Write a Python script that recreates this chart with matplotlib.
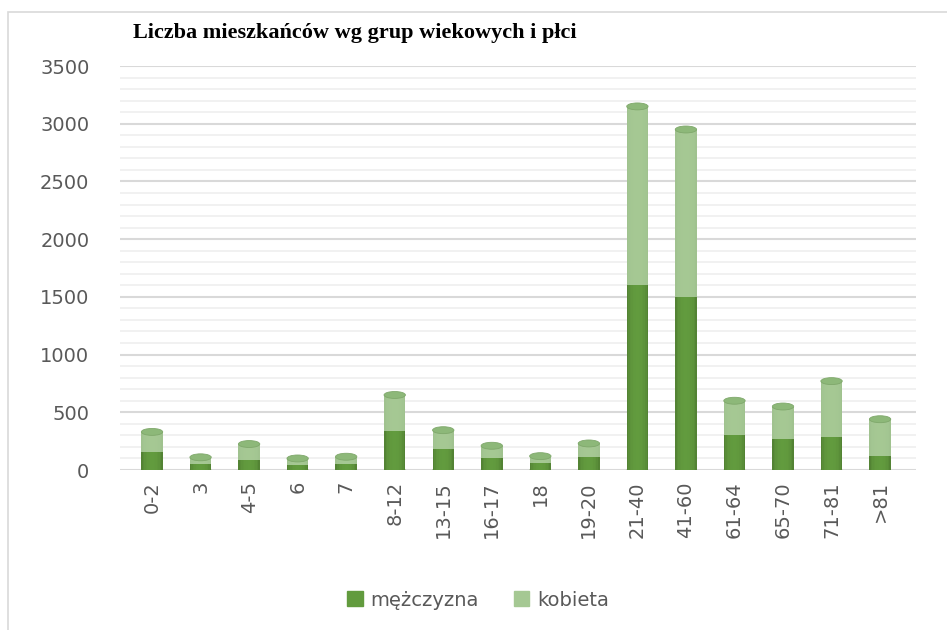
import numpy as np
import matplotlib
matplotlib.use('Agg')
from matplotlib import pyplot as plt
from matplotlib.patches import Rectangle, Ellipse
from matplotlib.colors import to_rgb

groups = ['0-2', '3', '4-5', '6', '7', '8-12', '13-15', '16-17', '18', '19-20',
          '21-40', '41-60', '61-64', '65-70', '71-81', '>81']
men = [160, 50, 85, 40, 50, 340, 180, 100, 60, 110, 1600, 1500, 300, 270, 290, 120]
women = [170, 60, 140, 60, 65, 310, 165, 110, 60, 120, 1550, 1450, 300, 280, 480, 320]

c_men = '#629B3E'
c_women = '#A5C893'
grey = '#595959'

fig = plt.figure(figsize=(9.47, 6.3), dpi=100)
fig.patches.append(Rectangle((8 / 947, -0.01), 1.0, 1 - 12 / 630 + 0.01,
                             transform=fig.transFigure, fill=False,
                             edgecolor='#D9D9D9', lw=1.2))
ax = fig.add_axes([120 / 947, 1 - 470 / 630, (916 - 120) / 947, (470 - 66) / 630])

x = np.arange(len(groups))
w = 0.44

# cylinder look: each stack drawn as thin vertical strips, darker at the edges
n = 14
offs = (np.arange(n) + 0.5) / n * 2 - 1
for k, o in enumerate(offs):
    f = 0.72 + 0.28 * (1 - o ** 2) ** 0.4
    cm = tuple(min(1, c * f) for c in to_rgb(c_men))
    cw = tuple(min(1, c * (0.82 + 0.18 * f)) for c in to_rgb(c_women))
    ax.bar(x + o * w / 2, men, width=w / n * 1.05, color=cm, zorder=3, lw=0)
    ax.bar(x + o * w / 2, women, width=w / n * 1.05, bottom=men, color=cw, zorder=3, lw=0)

# elliptical caps
tot = np.array(men) + np.array(women)
for i in x:
    ax.add_patch(Ellipse((i, tot[i]), w, 60, facecolor='#8DB879', edgecolor='#7FA86B',
                         lw=0.6, zorder=4))
    ax.add_patch(Ellipse((i, 0), w, 60, facecolor='#4F8530', edgecolor='none', zorder=2.9))

ax.set_xlim(-0.66, 15.74)
ax.set_ylim(0, 3500)
ax.set_yticks(np.arange(0, 3501, 500))
ax.set_yticks(np.arange(0, 3501, 100), minor=True)
ax.grid(axis='y', which='major', color='#D9D9D9', lw=1.5, zorder=0)
ax.grid(axis='y', which='minor', color='#EFEFEF', lw=1.2, zorder=0)
ax.set_axisbelow(True)
for s in ax.spines.values():
    s.set_visible(False)
ax.tick_params(axis='both', which='both', length=0, colors=grey, labelsize=14)
ax.tick_params(axis='y', pad=22)
ax.tick_params(axis='x', pad=8)
ax.set_xticks(x)
ax.set_xticklabels(groups, rotation=90)

fig.text(133 / 947, 1 - 33 / 630, 'Liczba mieszkańców wg grup wiekowych i płci',
         family='Liberation Serif', weight='bold', fontsize=16, va='center', ha='left')

h1 = Rectangle((0, 0), 1, 1, color=c_men)
h2 = Rectangle((0, 0), 1, 1, color=c_women)
leg = fig.legend([h1, h2], ['mężczyzna', 'kobieta'], loc='center', ncol=2,
                 bbox_to_anchor=(478 / 947, 1 - 600 / 630), frameon=False,
                 fontsize=14, handlelength=0.8, handleheight=0.8, columnspacing=1.8,
                 handletextpad=0.4)
for t in leg.get_texts():
    t.set_color(grey)

fig.savefig('out.png', dpi=100)
